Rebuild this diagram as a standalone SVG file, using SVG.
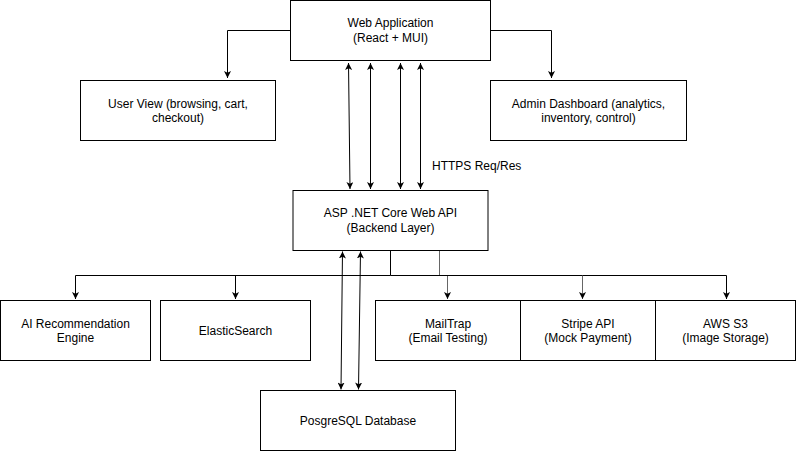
<svg xmlns="http://www.w3.org/2000/svg" width="796" height="452" viewBox="0 0 796 452">
<style>
.box{fill:#fff;stroke:#000;stroke-width:1}
.t{font-family:"Liberation Sans",Arial,sans-serif;font-size:12px;fill:#000;text-anchor:middle}
.c{fill:none;stroke:#000;stroke-width:1}
.g{stroke:#666}
</style>
<defs>
<marker id="ah" viewBox="0 0 10 10" refX="10" refY="5" markerWidth="7" markerHeight="7" markerUnits="userSpaceOnUse" orient="auto-start-reverse">
<path d="M0,0 L10,5 L0,10 L2.5,5 z" fill="#000"/>
</marker>
</defs>
<rect width="796" height="452" fill="#fff"/>
<g id="connectors">
<path class="c" d="M290.5,30.5 H227.5 V78" marker-end="url(#ah)"/>
<path class="c" d="M490.5,30.5 H551.5 V78" marker-end="url(#ah)"/>
<path class="c" d="M348.5,63 L350,189" marker-start="url(#ah)" marker-end="url(#ah)"/>
<path class="c" d="M370.5,63 V189" marker-start="url(#ah)" marker-end="url(#ah)"/>
<path class="c" d="M400.5,63 V189" marker-start="url(#ah)" marker-end="url(#ah)"/>
<path class="c" d="M420.5,63 V189" marker-start="url(#ah)" marker-end="url(#ah)"/>
<path class="c" d="M390.5,250 V275.5 H75.5 V299" marker-end="url(#ah)"/>
<path class="c" d="M235.5,275.5 V299" marker-end="url(#ah)"/>
<path class="c g" d="M439.5,250 V275.5 H447.5 V299" marker-end="url(#ah)"/>
<path class="c" d="M390.5,275.5 H726.5 V299" marker-end="url(#ah)"/>
<path class="c g" d="M582.5,275.5 V299" marker-end="url(#ah)"/>
<path class="c" d="M342.5,251.5 L341,389.5" marker-start="url(#ah)" marker-end="url(#ah)"/>
<path class="c" d="M360.5,251.5 L358.5,389.5" marker-start="url(#ah)" marker-end="url(#ah)"/>
</g>
<g id="webapp">
<rect class="box" x="290.5" y="0.5" width="200" height="60"/>
<text class="t" x="390.5" y="27">Web Application</text>
<text class="t" x="390.5" y="41.5">(React + MUI)</text>
</g>
<g id="userview">
<rect class="box" x="80.5" y="80.5" width="195" height="60"/>
<text class="t" x="178" y="107.5">User View (browsing, cart,</text>
<text class="t" x="178" y="122">checkout)</text>
</g>
<g id="admin">
<rect class="box" x="490.5" y="80.5" width="196" height="60"/>
<text class="t" x="588.5" y="107.5">Admin Dashboard (analytics,</text>
<text class="t" x="588.5" y="122">inventory, control)</text>
</g>
<text class="t" x="432" y="170" style="text-anchor:start">HTTPS Req/Res</text>
<g id="backend">
<rect class="box" x="293" y="190.5" width="195" height="60"/>
<text class="t" x="390.5" y="217">ASP .NET Core Web API</text>
<text class="t" x="390.5" y="231.5">(Backend Layer)</text>
</g>
<g id="ai">
<rect class="box" x="0.5" y="300.5" width="150" height="60"/>
<text class="t" x="75.5" y="327.5">AI Recommendation</text>
<text class="t" x="75.5" y="342">Engine</text>
</g>
<g id="elastic">
<rect class="box" x="160.5" y="300.5" width="150" height="60"/>
<text class="t" x="235.5" y="335">ElasticSearch</text>
</g>
<g id="mailtrap">
<rect class="box" x="375.5" y="300.5" width="145" height="60"/>
<text class="t" x="448" y="327.5">MailTrap</text>
<text class="t" x="448" y="342">(Email Testing)</text>
</g>
<g id="stripe">
<rect class="box" x="520.5" y="300.5" width="135" height="60"/>
<text class="t" x="588" y="327.5">Stripe API</text>
<text class="t" x="588" y="342">(Mock Payment)</text>
</g>
<g id="aws">
<rect class="box" x="655.5" y="300.5" width="140" height="60"/>
<text class="t" x="725.5" y="327.5">AWS S3</text>
<text class="t" x="725.5" y="342">(Image Storage)</text>
</g>
<g id="postgres">
<rect class="box" x="260.5" y="390.5" width="195" height="60"/>
<text class="t" x="358" y="425">PosgreSQL Database</text>
</g>
</svg>
